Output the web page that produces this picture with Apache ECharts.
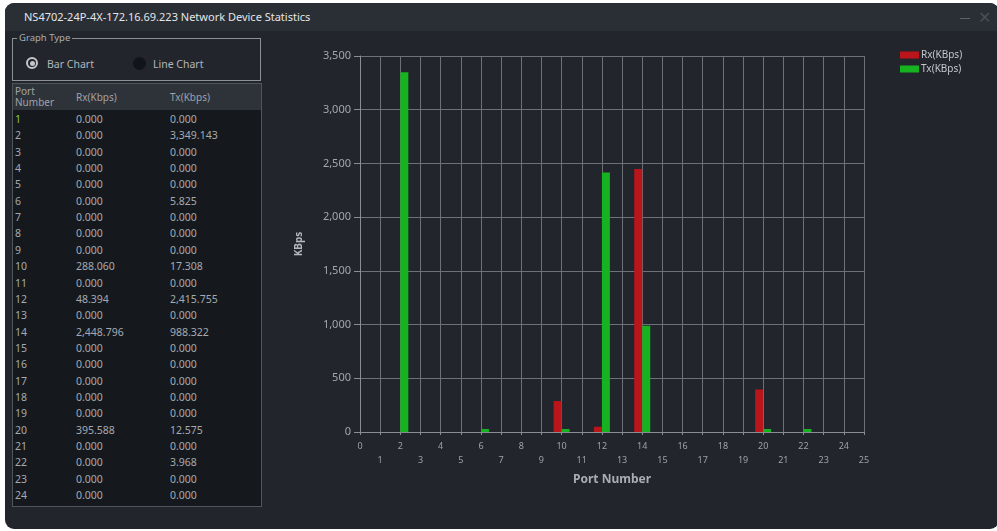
<!DOCTYPE html>
<html>
<head>
<meta charset="utf-8">
<script src="https://cdn.jsdelivr.net/npm/echarts@6/dist/echarts.min.js"></script>
<style>
html,body{margin:0;padding:0;background:#ffffff;width:997px;height:531px;overflow:hidden;font-family:"Noto Sans","DejaVu Sans",sans-serif;}
#win{position:absolute;left:5px;top:3px;width:994px;height:526px;background:#22262c;border-radius:9px;overflow:hidden;}
#titlebar{position:absolute;left:0;top:0;width:100%;height:28px;background:#2a2e35;}
#title{position:absolute;left:19px;top:6px;font-size:11px;color:#e4e6e9;}
#minbtn{position:absolute;left:955px;top:15px;width:10px;height:1px;background:#5d6168;}
#closebtn{position:absolute;left:973px;top:3px;font-size:16px;color:#4a4e55;}
#group{position:absolute;left:7px;top:35px;width:247px;height:41px;border:1px solid #8d9197;}
#grouplbl{position:absolute;left:4px;top:-8px;font-size:9.5px;color:#a9adb3;background:#22262c;padding:0 2px;}
.radio{position:absolute;border-radius:50%;}
#r1{left:13px;top:18px;border:2px solid #c4c6ca;width:8px;height:8px;}
#r1 div{position:absolute;left:1.5px;top:1.5px;width:5px;height:5px;border-radius:50%;background:#c4c6ca;}
#r2{left:120px;background:#111418;width:13px;height:13px;top:18px;}
.rlbl{position:absolute;top:18px;font-size:10.5px;color:#b2b6bb;}
#tbl{position:absolute;left:7px;top:80px;width:248px;height:422px;border:1px solid #50555c;background:#15191e;}
#thead{position:absolute;left:0;top:0;width:100%;height:26px;background:#2e3239;}
.th{position:absolute;font-size:10px;color:#9fa3a9;line-height:11px;}
.row{position:absolute;left:0;width:100%;height:16px;font-size:10.5px;color:#a6aab0;line-height:16px;}
.row span{position:absolute;}
#chart{position:absolute;left:0;top:0;width:997px;height:531px;}
</style>
</head>
<body>
<div id="win">
  <div id="titlebar">
    <div id="title">NS4702-24P-4X-172.16.69.223 Network Device Statistics</div>
    <div id="minbtn"></div>
    <div id="closebtn">✕</div>
  </div>
  <div id="group">
    <div id="grouplbl">Graph Type</div>
    <div class="radio" id="r1"><div></div></div>
    <div class="rlbl" style="left:34px;">Bar Chart</div>
    <div class="radio" id="r2"></div>
    <div class="rlbl" style="left:140px;">Line Chart</div>
  </div>
  <div id="tbl">
    <div id="thead">
      <div class="th" style="left:2px;top:2px;">Port<br>Number</div>
      <div class="th" style="left:63px;top:8px;">Rx(Kbps)</div>
      <div class="th" style="left:157px;top:8px;">Tx(Kbps)</div>
    </div>
    <div id="tbody"></div>
  </div>
</div>
<div id="chart"></div>
<script>
// ---- data ----
var ports = [1,2,3,4,5,6,7,8,9,10,11,12,13,14,15,16,17,18,19,20,21,22,23,24];
var rxKbps = [0,0,0,0,0,0,0,0,0,288.060,0,48.394,0,2448.796,0,0,0,0,0,395.588,0,0,0,0];
var txKbps = [0,3349.143,0,0,0,5.825,0,0,0,17.308,0,2415.755,0,988.322,0,0,0,0,0,12.575,0,3.968,0,0];
var yTicks = [0,500,1000,1500,2000,2500,3000,3500];
var xTicks = [0,1,2,3,4,5,6,7,8,9,10,11,12,13,14,15,16,17,18,19,20,21,22,23,24,25];
var seriesNames = ['Rx(KBps)','Tx(KBps)'];

function fmt(v, dec){
  var s = v.toFixed(dec);
  var parts = s.split('.');
  parts[0] = parts[0].replace(/\B(?=(\d{3})+(?!\d))/g, ',');
  return parts.join('.');
}

// ---- table ----
var tbody = document.getElementById('tbody');
for (var i = 0; i < ports.length; i++) {
  var r = document.createElement('div');
  r.className = 'row';
  r.style.top = (27 + i * 16.35) + 'px';
  var c = (i === 0) ? '#8cc63f' : '#a6aab0';
  r.innerHTML = '<span style="left:2px;color:' + c + '">' + ports[i] + '</span>' +
                '<span style="left:63px">' + fmt(rxKbps[i],3) + '</span>' +
                '<span style="left:157px">' + fmt(txKbps[i],3) + '</span>';
  tbody.appendChild(r);
}

// ---- chart ----
function pairs(vals){
  var out = [];
  for (var i = 0; i < ports.length; i++) {
    if (vals[i] !== 0) out.push([ports[i], vals[i]]);
  }
  return out;
}
var chart = echarts.init(document.getElementById('chart'), null, {renderer:'canvas'});
chart.setOption({
  backgroundColor: 'transparent',
  animation: false,
  textStyle: {fontFamily: '"Noto Sans","DejaVu Sans",sans-serif'},
  legend: {
    data: seriesNames,
    orient: 'vertical',
    left: 900, top: 50,
    itemWidth: 19, itemHeight: 7, itemGap: 4,
    icon: 'rect',
    padding: 0,
    textStyle: {color: '#c3c7cc', fontSize: 10, padding: [0,0,0,-3]}
  },
  grid: {left: 360, top: 56, right: 133, bottom: 99, containLabel: false},
  xAxis: {
    type: 'value', min: 0, max: 25, interval: 1,
    name: 'Port Number', nameLocation: 'middle', nameGap: 42,
    nameTextStyle: {color: '#a9adb3', fontSize: 12, fontWeight: 'bold'},
    axisLine: {show: true, lineStyle: {color: '#8a8e94', width: 1}},
    axisTick: {show: true, length: 3, lineStyle: {color: '#8a8e94'}},
    axisLabel: {
      color: '#9ea2a8', fontSize: 9, margin: 7, lineHeight: 14,
      formatter: function(v){ return (v % 2 === 1) ? '\n' + v : String(v); }
    },
    splitLine: {show: true, lineStyle: {color: '#6d7178', width: 1}}
  },
  yAxis: {
    type: 'value', min: yTicks[0], max: yTicks[yTicks.length-1], interval: 500,
    name: 'KBps', nameLocation: 'middle', nameGap: 56, nameRotate: 90,
    nameTextStyle: {color: '#b5b9be', fontSize: 10, fontWeight: 'bold'},
    axisLine: {show: true, lineStyle: {color: '#8a8e94', width: 1}},
    axisTick: {show: true, length: 6, lineStyle: {color: '#8a8e94'}},
    axisLabel: {color: '#a3a7ad', fontSize: 11, margin: 9,
      formatter: function(v){ return fmt(v,0); }},
    splitLine: {show: true, lineStyle: {color: '#6d7178', width: 1}}
  },
  series: [
    {name: seriesNames[0], type: 'bar', data: pairs(rxKbps), barWidth: 8, barGap: '0%', barMinHeight: 3,
     itemStyle: {color: '#bb151c'}},
    {name: seriesNames[1], type: 'bar', data: pairs(txKbps), barWidth: 8, barGap: '0%', barMinHeight: 3,
     itemStyle: {color: '#17b21f'}}
  ]
});
</script>
</body>
</html>
